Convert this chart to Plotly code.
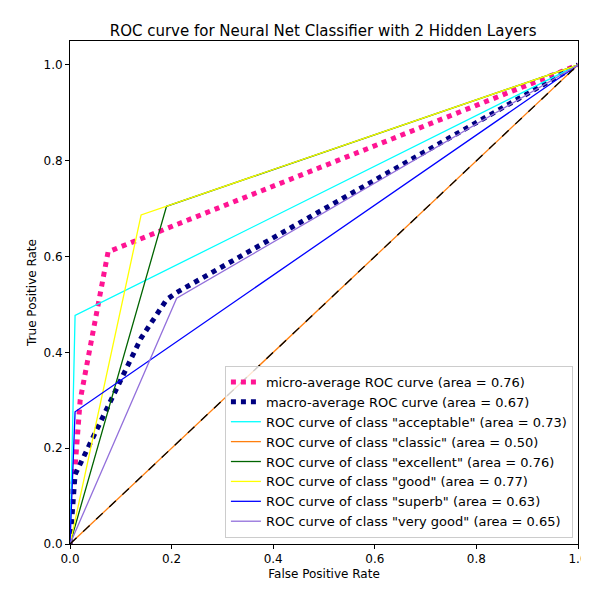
import plotly.graph_objects as go

# ROC points
micro_fpr = [0.0, 0.0, 0.01, 0.02, 0.075, 1.0]
micro_tpr = [0.0, 0.08, 0.16, 0.30, 0.61, 1.0]
macro_fpr = [0.0, 0.01, 0.14, 0.19, 0.21, 1.0]
macro_tpr = [0.0, 0.145, 0.43, 0.51, 0.525, 1.0]

class_names = ["acceptable", "classic", "excellent", "good", "superb", "very good"]
class_auc = [0.73, 0.50, 0.76, 0.77, 0.63, 0.65]
class_fpr = [
    [0.0, 0.01, 1.0],
    [0.0, 1.0],
    [0.0, 0.19, 1.0],
    [0.0, 0.14, 1.0],
    [0.0, 0.01, 1.0],
    [0.0, 0.21, 1.0],
]
class_tpr = [
    [0.0, 0.477, 1.0],
    [0.0, 1.0],
    [0.0, 0.705, 1.0],
    [0.0, 0.687, 1.0],
    [0.0, 0.276, 1.0],
    [0.0, 0.513, 1.0],
]
class_colors = ["aqua", "#ff7f0e", "darkgreen", "yellow", "blue", "mediumpurple"]

fig = go.Figure()
fig.add_trace(go.Scatter(x=micro_fpr, y=micro_tpr, mode="lines",
                         line=dict(color="deeppink", width=5, dash="dot"),
                         name="micro-average ROC curve (area = 0.76)"))
fig.add_trace(go.Scatter(x=macro_fpr, y=macro_tpr, mode="lines",
                         line=dict(color="navy", width=5, dash="dot"),
                         name="macro-average ROC curve (area = 0.67)"))
for n, a, fx, ty, c in zip(class_names, class_auc, class_fpr, class_tpr, class_colors):
    fig.add_trace(go.Scatter(x=fx, y=ty, mode="lines", line=dict(color=c, width=1.3),
                             name=f'ROC curve of class "{n}" (area = {a:.2f})'))
fig.add_trace(go.Scatter(x=[0, 1], y=[0, 1], mode="lines",
                         line=dict(color="black", width=1.3, dash="dash"), showlegend=False))

axis_common = dict(showgrid=False, zeroline=False, showline=True, mirror=True,
                   linecolor="black", linewidth=1, ticks="outside", ticklen=4,
                   tickcolor="black", tickformat=".1f", automargin=False,
                   tickfont=dict(size=12))
fig.update_xaxes(range=[0, 1], dtick=0.2,
                 title=dict(text="False Positive Rate", standoff=4, font=dict(size=12)), **axis_common)
fig.update_yaxes(range=[0, 1.05], dtick=0.2,
                 title=dict(text="True Positive Rate", standoff=4, font=dict(size=12)), **axis_common)

fig.update_layout(
    width=589, height=590,
    plot_bgcolor="white", paper_bgcolor="white",
    font=dict(family="DejaVu Sans", size=12, color="black"),
    title=dict(text="ROC curve for Neural Net Classifier with 2 Hidden Layers",
               x=0.535, xanchor="center", y=0.97, font=dict(size=15)),
    margin=dict(l=62, r=19, t=33, b=54, autoexpand=False),
    legend=dict(x=0.99, y=0.012, xanchor="right", yanchor="bottom",
                bgcolor="rgba(255,255,255,0.8)", bordercolor="#cccccc", borderwidth=1,
                font=dict(size=13), tracegroupgap=0, itemwidth=30),
)
fig.write_html("out.html")
